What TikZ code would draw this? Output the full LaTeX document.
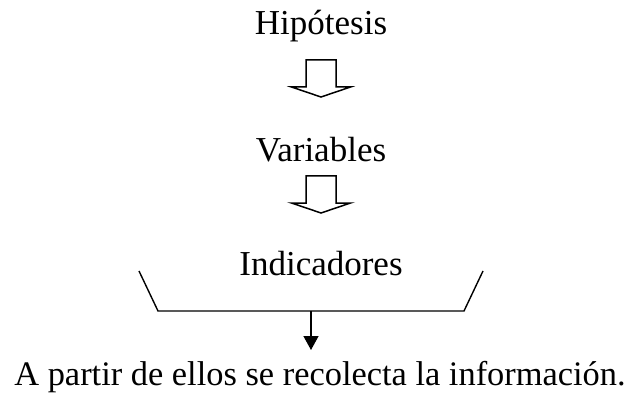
\documentclass[tikz,border=0pt]{standalone}
\usepackage{fontspec}
\setmainfont{Liberation Serif}
\usetikzlibrary{arrows.meta,positioning,calc}
\tikzset{
  titulo/.style={anchor=base, inner sep=0pt, font=\fontsize{35}{40}\selectfont},
  frase/.style={anchor=base, inner sep=0pt, font=\fontsize{34.4}{40}\selectfont},
  flechahueca/.pic={
    \draw[line width=1.5pt, line join=miter] (-15,0) -- (-15,27) -- (-29.5,27) -- (0,37)
      -- (29.5,27) -- (15,27) -- (15,0) -- cycle;
  },
  linea/.style={line width=1.4pt, black},
  flechafin/.style={-{Triangle[length=14pt, width=15pt]}, line width=1.4pt, black},
}
\begin{document}
\begin{tikzpicture}[x=1pt, y=-1pt]
  \useasboundingbox (0,0) rectangle (633,396);
  \node[titulo] (hip) at (321,35) {Hipótesis};
  \pic (f1) at (321,60) {flechahueca};
  \node[titulo] (var) at (321,161) {Variables};
  \pic (f2) at (321,176) {flechahueca};
  \node[titulo] (ind) at (321,275) {Indicadores};
  % corchete bajo los indicadores
  \coordinate (ci) at (139,271);
  \coordinate (bi) at (158,311);
  \coordinate (bd) at (464,311);
  \coordinate (cd) at (483,271);
  \coordinate (med) at (311,311);
  \coordinate (punta) at (311,350);
  \draw[linea] (ci) -- (bi) -- (bd) -- (cd);
  \draw[flechafin] (med) -- (punta);
  \node[frase] (info) at (320,385) {A partir de ellos se recolecta la información.};
\end{tikzpicture}
\end{document}
